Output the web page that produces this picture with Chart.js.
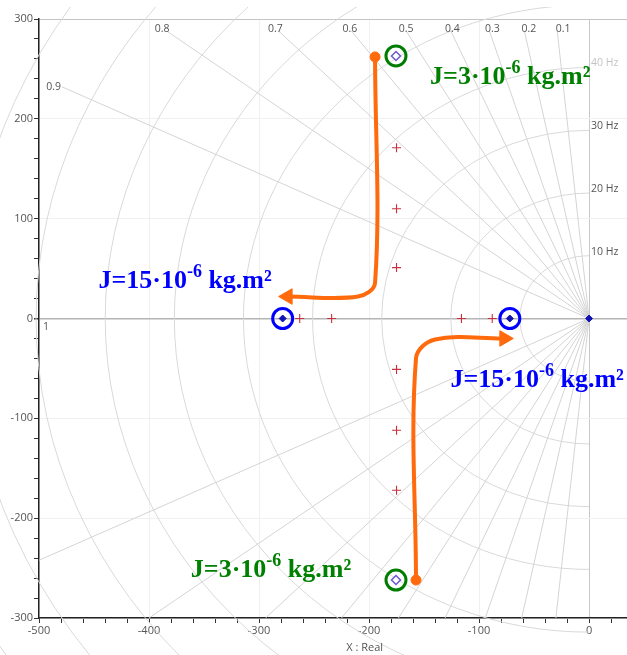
<!DOCTYPE html>
<html>
<head>
<meta charset="utf-8">
<script src="https://cdn.jsdelivr.net/npm/chart.js@4.4.1/dist/chart.umd.min.js"></script>
<style>
  html, body { margin: 0; padding: 0; background: #fff; }
  #wrap { width: 627px; height: 655px; position: relative; }
</style>
</head>
<body>
<div id="wrap"><canvas id="rlChart"></canvas></div>
<script>
// grid of the root locus (damping ratios and natural frequencies)
const dampingRatios = [0.1, 0.2, 0.3, 0.4, 0.5, 0.6, 0.7, 0.8, 0.9, 1];
const gridFreqsHz = [10, 20, 30, 40, 50, 60, 70, 80, 90, 100];
const labelledFreqsHz = [10, 20, 30, 40];

// intermediate poles (red crosses)
const crossReal = [-175, -175, -175, -175, -175, -175, -263, -234, -116, -88];
const crossImag = [171, 110, 51, -51, -112, -172, 0, 0, 0, 0];

// poles for J = 15e-6 (blue diamonds), plus origin
const heavyReal = [-278.5, -72, 0];
const heavyImag = [0, 0, 0];

// poles for J = 3e-6 (hollow diamonds)
const lightReal = [-175.5, -175.5];
const lightImag = [263, -262];

// orange arrows (direction when J grows)
const arrowUpReal = [-194.5, -194.5, -210, -274];
const arrowUpImag = [262, 36, 22, 22];
const arrowDownReal = [-157.3, -157.3, -140, -77];
const arrowDownImag = [-262, -40, -21, -20];

// annotations
const notes = [
    { x: -144.5, y: 235, mass: '3', color: '#008000' },
    { x: -362, y: -259, mass: '3', color: '#008000' },
    { x: -446, y: 31, mass: '15', color: '#0000ff' },
    { x: -126, y: -69, mass: '15', color: '#0000ff' }
];

const ORANGE = '#ff6a0d';

function pts(xs, ys) {
    return xs.map((v, i) => ({ x: v, y: ys[i] }));
}

function stepTicks(min, max, step) {
    const out = [];
    for (let v = min; v <= max; v += step) out.push({ value: v });
    return out;
}

const rlGrid = {
    id: 'rlGrid',
    beforeDatasetsDraw(chart) {
        const { ctx, scales: { x, y } } = chart;
        const ox = x.getPixelForValue(0);
        const oy = y.getPixelForValue(0);
        ctx.save();
        ctx.beginPath();
        ctx.rect(0, 7, chart.width, chart.height - 7);
        ctx.clip();

        // constant natural frequency arcs
        ctx.strokeStyle = '#d9d9d9';
        ctx.lineWidth = 1;
        gridFreqsHz.forEach(f => {
            const w = 2 * Math.PI * f;
            const rx = ox - x.getPixelForValue(-w);
            const ry = y.getPixelForValue(-w) - oy;
            ctx.beginPath();
            ctx.ellipse(ox, oy, rx, ry, 0, Math.PI / 2, Math.PI * 1.5);
            ctx.stroke();
        });

        // constant damping lines
        ctx.strokeStyle = '#d4d4d4';
        ctx.font = '10.5px "Open Sans", sans-serif';
        ctx.fillStyle = '#555';
        dampingRatios.forEach(z => {
            const s = Math.sqrt(1 - z * z);
            if (z < 1) {
                const tUp = Math.min(288 / s, 479 / z);
                const tDn = Math.min(300 / s, 500 / z);
                const ux = x.getPixelForValue(-z * tUp), uy = y.getPixelForValue(s * tUp);
                const dx = x.getPixelForValue(-z * tDn), dy = y.getPixelForValue(-s * tDn);
                ctx.beginPath();
                ctx.moveTo(ux, uy);
                ctx.lineTo(ox, oy);
                ctx.lineTo(dx, dy);
                ctx.stroke();
                ctx.textBaseline = 'middle';
                if (288 / s < 479 / z) {
                    ctx.textAlign = 'center';
                    ctx.fillText(String(z), ux + (0.5 - z) * 15, uy - 2);
                } else {
                    ctx.textAlign = 'right';
                    ctx.fillText(String(z), ux - 1, uy);
                }
            } else {
                ctx.textAlign = 'left';
                ctx.textBaseline = 'middle';
                ctx.fillText('1', x.getPixelForValue(-500) + 4, oy + 9);
            }
        });

        // frequency labels on the imaginary axis
        ctx.textAlign = 'left';
        ctx.textBaseline = 'bottom';
        labelledFreqsHz.forEach(f => {
            const w = 2 * Math.PI * f;
            ctx.fillStyle = f === 40 ? '#c4c4c4' : '#555';
            ctx.fillText(f + ' Hz', ox + 2, y.getPixelForValue(w) + 1);
        });
        ctx.restore();

        // axis name, sits under -200 like in the original plot
        ctx.save();
        ctx.font = '11px "Open Sans", sans-serif';
        ctx.fillStyle = '#555';
        ctx.textAlign = 'center';
        ctx.textBaseline = 'middle';
        ctx.fillText('X : Real', x.getPixelForValue(-204), chart.height - 7);
        ctx.restore();
    }
};

const inertiaNotes = {
    id: 'inertiaNotes',
    afterDatasetsDraw(chart) {
        const { ctx, scales: { x, y } } = chart;
        const mainFont = 'bold 26px "Liberation Serif", "Times New Roman", serif';
        const supFont = 'bold 18px "Liberation Serif", "Times New Roman", serif';
        ctx.save();
        ctx.textBaseline = 'alphabetic';
        ctx.textAlign = 'left';
        notes.forEach(n => {
            let px = x.getPixelForValue(n.x);
            const py = y.getPixelForValue(n.y);
            ctx.fillStyle = n.color;
            ctx.font = mainFont;
            const head = 'J=' + n.mass + '\u00b710';
            ctx.fillText(head, px, py);
            px += ctx.measureText(head).width;
            ctx.font = supFont;
            ctx.fillText('-6', px, py - 11);
            px += ctx.measureText('-6').width;
            ctx.font = mainFont;
            ctx.fillText(' kg.m\u00b2', px, py);
        });
        ctx.restore();
    }
};

document.addEventListener('DOMContentLoaded', function () {
    const ctx = document.getElementById('rlChart').getContext('2d');

    const arrowStyle = {
        showLine: true,
        borderColor: ORANGE,
        borderWidth: 4,
        tension: 0.35,
        borderCapStyle: 'round',
        borderJoinStyle: 'round',
        pointStyle: ['circle', false, false, 'triangle'],
        pointRadius: [5, 0, 0, 9],
        pointBackgroundColor: ORANGE,
        pointBorderColor: ORANGE,
        pointBorderWidth: 1,
        order: 4
    };

    new Chart(ctx, {
        type: 'scatter',
        data: {
            datasets: [
                {
                    label: 'poles',
                    data: pts(crossReal, crossImag),
                    pointStyle: 'cross',
                    pointRadius: 4.5,
                    pointBorderWidth: 1.1,
                    pointBorderColor: '#c8303e',
                    order: 1
                },
                {
                    label: 'J=15e-6',
                    data: pts(heavyReal, heavyImag),
                    pointStyle: 'rectRot',
                    pointRadius: 3.5,
                    pointBorderWidth: 1,
                    pointBackgroundColor: '#1414b4',
                    pointBorderColor: '#1414b4',
                    order: 0
                },
                {
                    label: 'J=3e-6',
                    data: pts(lightReal, lightImag),
                    pointStyle: 'rectRot',
                    pointRadius: 4.5,
                    pointBorderWidth: 1.5,
                    pointBackgroundColor: 'rgba(255,255,255,0.7)',
                    pointBorderColor: '#6a5acd',
                    order: 0
                },
                {
                    label: 'ring3',
                    data: pts(lightReal, lightImag),
                    pointStyle: 'circle',
                    pointRadius: 10,
                    pointBorderWidth: 3,
                    pointBackgroundColor: 'rgba(0,0,0,0)',
                    pointBorderColor: '#007d00',
                    order: 2
                },
                {
                    label: 'ring15',
                    data: pts(heavyReal.slice(0, 2), heavyImag.slice(0, 2)),
                    pointStyle: 'circle',
                    pointRadius: 10,
                    pointBorderWidth: 3,
                    pointBackgroundColor: 'rgba(0,0,0,0)',
                    pointBorderColor: '#0000ff',
                    order: 2
                },
                Object.assign({ label: 'arrow up', data: pts(arrowUpReal, arrowUpImag), pointRotation: [0, 0, 0, -90] }, arrowStyle),
                Object.assign({ label: 'arrow down', data: pts(arrowDownReal, arrowDownImag), pointRotation: [0, 0, 0, 90] }, arrowStyle)
            ]
        },
        options: {
            responsive: true,
            maintainAspectRatio: false,
            animation: false,
            layout: { autoPadding: false, padding: { top: 19, right: 0, bottom: 0, left: 0 } },
            plugins: {
                legend: { display: false },
                tooltip: { enabled: false }
            },
            scales: {
                x: {
                    type: 'linear',
                    min: -500,
                    max: 34.5,
                    afterBuildTicks: scale => { scale.ticks = stepTicks(-500, 20, 20); },
                    afterFit: scale => {
                        scale.height = 37;
                        scale.paddingLeft = 0;
                        scale.paddingRight = 0;
                    },
                    border: { display: true, color: '#222', width: 1.5 },
                    grid: {
                        color: c => c.tick.value === 0 ? '#c8c8c8' : (c.tick.value % 100 === 0 ? '#f0f0f0' : 'rgba(0,0,0,0)'),
                        tickColor: '#333',
                        tickLength: 5
                    },
                    ticks: {
                        autoSkip: false,
                        maxRotation: 0,
                        padding: 1,
                        color: '#555',
                        font: { family: '"Open Sans", sans-serif', size: 11 },
                        callback: v => v % 100 === 0 ? String(v) : ''
                    }
                },
                y: {
                    type: 'linear',
                    min: -300,
                    max: 300,
                    afterBuildTicks: scale => { scale.ticks = stepTicks(-300, 300, 20); },
                    afterFit: scale => { scale.width = 39; },
                    border: { display: true, color: '#222', width: 1.5 },
                    grid: {
                        color: c => {
                            const v = c.tick.value;
                            if (v === 0) return '#b4b4b4';
                            if (v === 300) return '#c4c4c4';
                            return v % 100 === 0 ? '#f0f0f0' : 'rgba(0,0,0,0)';
                        },
                        lineWidth: c => c.tick.value === 0 ? 1.5 : 1,
                        tickColor: '#333',
                        tickLength: 5
                    },
                    ticks: {
                        autoSkip: false,
                        padding: 1,
                        color: '#555',
                        font: { family: '"Open Sans", sans-serif', size: 11 },
                        callback: v => v % 100 === 0 ? String(v) : ''
                    }
                }
            }
        },
        plugins: [rlGrid, inertiaNotes]
    });
});
</script>
</body>
</html>
